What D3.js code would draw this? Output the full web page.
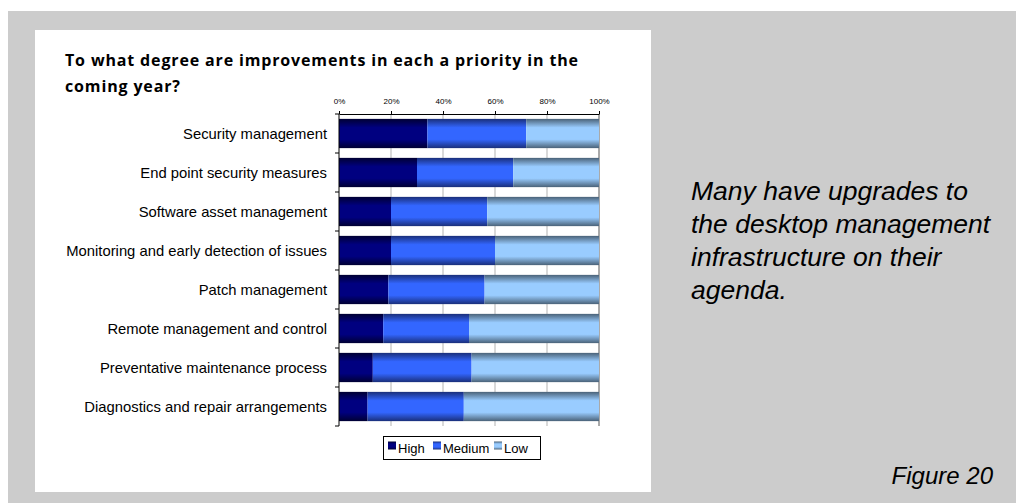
<!DOCTYPE html>
<html>
<head>
<meta charset="utf-8">
<script src="https://cdn.jsdelivr.net/npm/d3@7"></script>
<style>
  html, body { margin: 0; padding: 0; background: #fff; }
  svg { display: block; }
</style>
</head>
<body>
<svg id="chart" width="1016" height="503"></svg>
<script>
// Survey: priority of improvements for the coming year (share of respondents, %)
const categories = [
  "Security management",
  "End point security measures",
  "Software asset management",
  "Monitoring and early detection of issues",
  "Patch management",
  "Remote management and control",
  "Preventative maintenance process",
  "Diagnostics and repair arrangements"
];
const seriesNames = ["High", "Medium", "Low"];
const highValues   = [34, 30, 20, 20, 19, 17, 13, 11];
const mediumValues = [38, 37, 37, 40, 37, 33, 38, 37];
const lowValues    = [28, 33, 43, 40, 44, 50, 49, 52];
const tickValues = [0, 20, 40, 60, 80, 100];

const svg = d3.select("#chart");
const sans = "'Liberation Sans', Arial, sans-serif";

// Page backdrop and white chart card
svg.append("rect").attr("x", 8).attr("y", 11).attr("width", 1008).attr("height", 492).attr("fill", "#cccccc");
svg.append("rect").attr("x", 35).attr("y", 30).attr("width", 616).attr("height", 462).attr("fill", "#ffffff");

// Gradient fills: dark edges, bright centre band
const defs = svg.append("defs");
const palette = {
  High:   { edge: "#000033", mid: "#000080" },
  Medium: { edge: "#1a2f7a", mid: "#3366ff" },
  Low:    { edge: "#4a6278", mid: "#99ccff" }
};
seriesNames.forEach(name => {
  const g = defs.append("linearGradient").attr("id", "grad-" + name)
    .attr("x1", 0).attr("y1", 0).attr("x2", 0).attr("y2", 1);
  g.append("stop").attr("offset", "0%").attr("stop-color", palette[name].edge);
  g.append("stop").attr("offset", "30%").attr("stop-color", palette[name].mid);
  g.append("stop").attr("offset", "70%").attr("stop-color", palette[name].mid);
  g.append("stop").attr("offset", "100%").attr("stop-color", palette[name].edge);
});

// Title, tracked out so the first line fills the title box
const titleFont = "'Open Sans', Lato, sans-serif";
const titleLines = ["To what degree are improvements in each a priority in the", "coming year?"];
const titleTexts = titleLines.map((t, i) => svg.append("text").attr("x", 65).attr("y", 66 + i * 26)
  .attr("font-family", titleFont).attr("font-weight", "bold").attr("font-size", 16).attr("fill", "#000")
  .text(t));
const titleBoxWidth = 513;
const natural = titleTexts[0].node().getComputedTextLength();
const tracking = Math.max(0, (titleBoxWidth - natural) / (titleLines[0].length - 1));
titleTexts.forEach(t => t.attr("letter-spacing", tracking));

// Scales
const x = d3.scaleLinear().domain([0, 100]).range([339, 599]);
const y = d3.scaleBand().domain(categories).range([114, 426]).paddingInner(0.25).paddingOuter(0.125);

// Vertical gridlines
svg.append("g").selectAll("line").data(tickValues.filter(t => t > 0 && t < 100)).join("line")
  .attr("x1", d => x(d)).attr("x2", d => x(d)).attr("y1", 114).attr("y2", 426)
  .attr("stroke", "#c0c0c0").attr("stroke-width", 1.2);
svg.append("line").attr("x1", x(100)).attr("x2", x(100)).attr("y1", 114).attr("y2", 426)
  .attr("stroke", "#555").attr("stroke-width", 1);

// Stacked bars
const rows = categories.map((c, i) => ({ category: c, High: highValues[i], Medium: mediumValues[i], Low: lowValues[i] }));
const stacked = d3.stack().keys(seriesNames)(rows);
svg.append("g").selectAll("g").data(stacked).join("g")
  .attr("fill", s => "url(#grad-" + s.key + ")")
  .selectAll("rect").data(s => s).join("rect")
  .attr("x", d => x(d[0]))
  .attr("width", d => x(d[1]) - x(d[0]))
  .attr("y", d => y(d.data.category))
  .attr("height", y.bandwidth());

// Top percentage axis
const topAxis = d3.axisTop(x).tickValues(tickValues).tickFormat(d => d + "%").tickSize(3).tickSizeOuter(0);
const gTop = svg.append("g").attr("transform", "translate(0,114)").call(topAxis);
gTop.select(".domain").attr("stroke", "#000");
gTop.selectAll(".tick line").attr("stroke", "#000");
gTop.selectAll(".tick text").attr("font-family", sans)
  .attr("font-size", 8).attr("fill", "#000").attr("dy", "-0.5em");

// Left category axis, ticks at category boundaries
const leftLine = svg.append("g");
leftLine.append("line").attr("x1", 339).attr("x2", 339).attr("y1", 114).attr("y2", 426).attr("stroke", "#000");
const step = y.step();
leftLine.selectAll("line.tk").data(d3.range(categories.length + 1)).join("line").attr("class", "tk")
  .attr("x1", 335).attr("x2", 339)
  .attr("y1", i => 114 + i * step).attr("y2", i => 114 + i * step)
  .attr("stroke", "#000");
svg.append("g").selectAll("text").data(categories).join("text")
  .attr("x", 327).attr("y", d => y(d) + y.bandwidth() / 2)
  .attr("dy", "0.35em").attr("text-anchor", "end")
  .attr("font-family", sans).attr("font-size", 14.8).attr("fill", "#000")
  .text(d => d);

// Legend
const legend = svg.append("g");
legend.append("rect").attr("x", 383.5).attr("y", 436.5).attr("width", 157).attr("height", 23)
  .attr("fill", "#fff").attr("stroke", "#000").attr("stroke-width", 1);
const legendX = [388, 433, 494];
seriesNames.forEach((name, i) => {
  legend.append("rect").attr("x", legendX[i]).attr("y", 441.5).attr("width", 8).attr("height", 8)
    .attr("fill", "url(#grad-" + name + ")");
  legend.append("text").attr("x", legendX[i] + 10).attr("y", 452.5)
    .attr("font-family", sans).attr("font-size", 13).attr("fill", "#000")
    .text(name);
});

// Commentary text
const note = svg.append("text").attr("font-family", sans)
  .attr("font-style", "italic").attr("font-size", 26.5).attr("fill", "#000");
["Many have upgrades to", "the desktop management", "infrastructure on their", "agenda."].forEach((line, i) => {
  note.append("tspan").attr("x", 691).attr("y", 200 + i * 33).text(line);
});
svg.append("text").attr("x", 993).attr("y", 484).attr("text-anchor", "end")
  .attr("font-family", sans).attr("font-style", "italic")
  .attr("font-size", 24).attr("fill", "#000").text("Figure 20");
</script>
</body>
</html>
